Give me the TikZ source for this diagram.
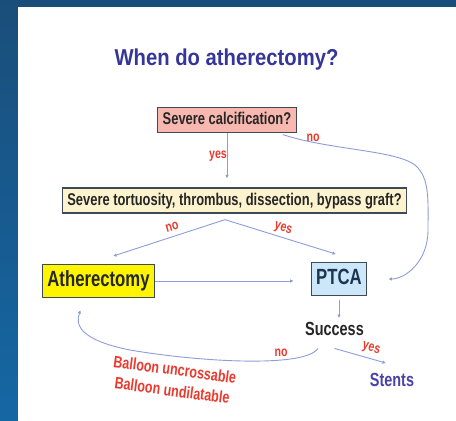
\documentclass[tikz,border=0pt]{standalone}
\usepackage{fontspec}
\setmainfont{Liberation Sans}[FakeStretch=0.76]
\newfontfamily\titlefont{Liberation Sans}[FakeStretch=0.88]
\usetikzlibrary{arrows.meta}
\definecolor{slide}{HTML}{1A4E7A}
\definecolor{slidelow}{HTML}{1567A4}
\definecolor{boxline}{HTML}{3E4A56}
\definecolor{pinkbox}{HTML}{F8B7AF}
\definecolor{creambox}{HTML}{FDF4CF}
\definecolor{yellowbox}{HTML}{FFF500}
\definecolor{bluebox}{HTML}{CDE7FA}
\definecolor{ptcatext}{HTML}{1C3550}
\definecolor{titleblue}{HTML}{36369A}
\definecolor{stentblue}{HTML}{4A42A8}
\definecolor{labelred}{HTML}{EA3A2E}
\definecolor{arrowblue}{HTML}{8E9DDA}

\begin{document}
\begin{tikzpicture}[x=1pt,y=-1pt,
  box/.style={draw=boxline,line width=1.3pt,text=black!85,inner xsep=5pt,inner ysep=4.5pt,
    text height=12.5pt,text depth=3.5pt,font=\bfseries\fontsize{17}{17}\selectfont},
  bigbox/.style={box,inner xsep=5pt,inner ysep=6pt,text height=16pt,text depth=4.5pt,
    font=\bfseries\fontsize{22}{22}\selectfont},
  arr/.style={draw=arrowblue,line width=0.9pt,-{Latex[length=3.5pt,width=3.5pt]}},
  lab/.style={text=labelred,inner sep=0pt,font=\bfseries\fontsize{14}{14}\selectfont},
  note/.style={text=labelred,inner sep=0pt,align=center,font=\bfseries\fontsize{16.5}{21}\selectfont}]

     \shade[top color=slide,bottom color=slidelow] (0,0) rectangle (456,421);
     \fill[white] (18,7) rectangle (456,421);
     \useasboundingbox (0,0) rectangle (456,421);

     \node[text=titleblue,font=\titlefont\bfseries\fontsize{23}{23}\selectfont] (title) at (226.5,60) {When do atherectomy?};
     \node[box,fill=pinkbox] (calc) at (227,120) {Severe calcification?};
     \node[box,fill=creambox] (tort) at (234.5,200.5) {Severe tortuosity, thrombus, dissection, bypass graft?};
     \node[bigbox,fill=yellowbox] (ather) at (98.5,281) {Atherectomy};
     \node[bigbox,fill=bluebox,text=ptcatext] (ptca) at (339,279) {PTCA};
     \node[inner sep=0pt,text=black!85,font=\bfseries\fontsize{19}{19}\selectfont] (success) at (334.5,329) {Success};
     \node[inner sep=0pt,text=stentblue,font=\bfseries\fontsize{19}{19}\selectfont] (stents) at (392,380) {Stents};

     \draw[arr,shorten >=9pt] (calc.south) -- (calc.south |- tort.north);
     \draw[arr,shorten >=21pt] ([xshift=-14pt,yshift=-1.5pt]calc.south east) .. controls (330,150) and (395,150) .. (415,165)
          .. controls (430,178) and (428,200) .. (428,230) .. controls (428,262) and (405,279) .. (ptca.east);
     \draw[arr] ([xshift=-9.5pt,yshift=-6pt]tort.south) -- ([xshift=14.5pt,yshift=8pt]ather.north);
     \draw[arr] ([xshift=-9.5pt,yshift=-6pt]tort.south) -- ([xshift=-3pt,yshift=8pt]ptca.north);
     \draw[arr,shorten >=17pt] (ather.east) -- (ather.east -| ptca.west);
     \draw[arr,shorten <=4pt,shorten >=4pt] (ptca.south) -- (ptca.south |- success.north);
     \draw[arr] ([yshift=-12.5pt]success.south) -- ([xshift=-6pt,yshift=10pt]stents.north);
     \draw[arr,shorten >=13pt] ([xshift=-16.5pt,yshift=-12.5pt]success.south) .. controls (305,368) and (200,362) .. (130,350)
          .. controls (80,340) and (75,325) .. ([xshift=-13.5pt]ather.south);

     \node[lab] (yescalc) at (218,156) {yes};
     \node[lab] (nocalc) at (313,138) {no};
     \node[lab,rotate=16] (notort) at (172,227) {no};
     \node[lab,rotate=-16] (yestort) at (283,229) {yes};
     \node[lab] (nosuccess) at (281,353) {no};
     \node[lab,rotate=-15] (yessuccess) at (371,349) {yes};
     \node[note,rotate=-7.5] (balloon) at (173.5,380) {Balloon uncrossable\\Balloon undilatable};
\end{tikzpicture}
\end{document}
